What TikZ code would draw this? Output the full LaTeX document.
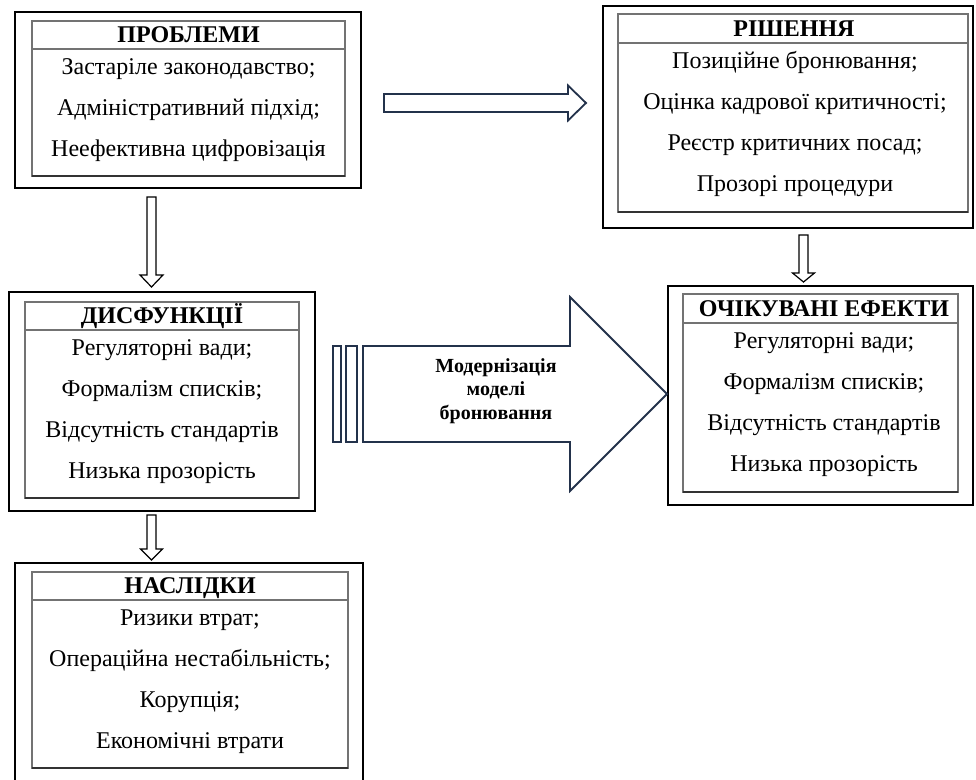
\documentclass[tikz,border=0pt]{standalone}
\usepackage{fontspec}
\setmainfont{Liberation Serif}
\usetikzlibrary{calc}
\definecolor{navy}{RGB}{35,50,75}
\definecolor{innergray}{RGB}{115,115,115}
\definecolor{innerdark}{RGB}{50,50,50}
\newcommand\downblock[5]{%
  \draw[blockarrow] ($(#1)+(-#3,0)$) -- ($(#2)+(-#3,-#5)$) -- ($(#2)+(-#4,-#5)$) -- (#2)
    -- ($(#2)+(#4,-#5)$) -- ($(#2)+(#3,-#5)$) -- ($(#1)+(#3,0)$) -- cycle;}
\newcommand\rightblock[6]{%
  \draw[#1] ($(#2)+(0,-#4)$) -- ($(#3)+(-#6,-#4)$) -- ($(#3)+(-#6,-#5)$) -- (#3)
    -- ($(#3)+(-#6,#5)$) -- ($(#3)+(-#6,#4)$) -- ($(#2)+(0,#4)$) -- cycle;}
\begin{document}
\begin{tikzpicture}[x=0.5pt,y=-0.5pt,
  outerbox/.style={draw=black,line width=1pt,inner sep=0pt,outer sep=0pt},
  innerbox/.style={draw=innergray,line width=0.8pt,inner sep=0pt,outer sep=0pt},
  innerbottom/.style={draw=innerdark,line width=0.8pt},
  title/.style={font=\bfseries\fontsize{12}{14}\selectfont,text height=8pt,text depth=0pt,inner sep=0pt},
  item/.style={font=\fontsize{12}{14}\selectfont,text height=8pt,text depth=0pt,inner sep=0pt},
  blockarrow/.style={draw=black,fill=white,line width=0.6pt,line join=miter},
  navyarrow/.style={draw=navy,fill=white,line width=0.9pt,line join=miter},
  bigtext/.style={font=\bfseries\fontsize{10}{11.75}\selectfont,align=center,inner sep=0pt}]

\useasboundingbox (0,0) rectangle (976,780);

% ---------- Box 1: ПРОБЛЕМИ
\node[outerbox,minimum width=173pt,minimum height=88pt] (p-out) at (188,100) {};
\node[innerbox,minimum width=156.5pt,minimum height=77.5pt] (p-in) at (188.5,98.5) {};
\draw[innerbox] ($(p-in.north west)+(0,28)$) -- ($(p-in.north east)+(0,28)$);
\draw[innerbottom] (p-in.south west) -- (p-in.south east);
\node[title] (p-t) at (188.5,35) {ПРОБЛЕМИ};
\node[item] (p-1) at (188.5,67) {Застаріле законодавство;};
\node[item] (p-2) at (188.5,108) {Адміністративний підхід;};
\node[item] (p-3) at (188.5,149) {Неефективна цифровізація};

% ---------- Box 2: РІШЕННЯ
\node[outerbox,minimum width=185pt,minimum height=111pt] (r-out) at (788,117) {};
\node[innerbox,minimum width=175pt,minimum height=99pt] (r-in) at (793,113) {};
\draw[innerbox] ($(r-in.north west)+(0,29)$) -- ($(r-in.north east)+(0,29)$);
\draw[innerbottom] (r-in.south west) -- (r-in.south east);
\node[title] (r-t) at (794,28.5) {РІШЕННЯ};
\node[item] (r-1) at (795,61) {Позиційне бронювання;};
\node[item] (r-2) at (795,102) {Оцінка кадрової критичності;};
\node[item] (r-3) at (795,143) {Реєстр критичних посад;};
\node[item] (r-4) at (795,184) {Прозорі процедури};

% ---------- Box 3: ДИСФУНКЦІЇ
\node[outerbox,minimum width=153pt,minimum height=109.5pt] (d-out) at (162,401.5) {};
\node[innerbox,minimum width=137pt,minimum height=98pt] (d-in) at (162,400) {};
\draw[innerbox] ($(d-in.north west)+(0,28)$) -- ($(d-in.north east)+(0,28)$);
\draw[innerbottom] (d-in.south west) -- (d-in.south east);
\node[title] (d-t) at (162,316) {ДИСФУНКЦІЇ};
\node[item] (d-1) at (162,348) {Регуляторні вади;};
\node[item] (d-2) at (162,389) {Формалізм списків;};
\node[item] (d-3) at (162,430) {Відсутність стандартів};
\node[item] (d-4) at (162,471) {Низька прозорість};

% ---------- Box 4: ОЧІКУВАНІ ЕФЕКТИ
\node[outerbox,minimum width=152.5pt,minimum height=109.5pt] (e-out) at (820.5,395.5) {};
\node[innerbox,minimum width=137.5pt,minimum height=99pt] (e-in) at (820.5,393) {};
\draw[innerbox] ($(e-in.north west)+(0,29)$) -- ($(e-in.north east)+(0,29)$);
\draw[innerbottom] (e-in.south west) -- (e-in.south east);
\node[title] (e-t) at (824,308.5) {ОЧІКУВАНІ ЕФЕКТИ};
\node[item] (e-1) at (824,341) {Регуляторні вади;};
\node[item] (e-2) at (824,382) {Формалізм списків;};
\node[item] (e-3) at (824,423) {Відсутність стандартів};
\node[item] (e-4) at (824,464) {Низька прозорість};

% ---------- Box 5: НАСЛІДКИ (outer frame runs past the bottom edge)
\draw[outerbox] (15,780) -- (15,563) -- (363,563) -- (363,780);
\node[innerbox,minimum width=158pt,minimum height=98pt] (n-in) at (190,670) {};
\draw[innerbox] ($(n-in.north west)+(0,28)$) -- ($(n-in.north east)+(0,28)$);
\draw[innerbottom] (n-in.south west) -- (n-in.south east);
\node[title] (n-t) at (190,586) {НАСЛІДКИ};
\node[item] (n-1) at (190,618) {Ризики втрат;};
\node[item] (n-2) at (190,659) {Операційна нестабільність;};
\node[item] (n-3) at (190,700) {Корупція;};
\node[item] (n-4) at (190,741) {Економічні втрати};

% ---------- Arrows
\coordinate (a1s) at (151.5,197);
\coordinate (a1e) at (151.5,287);
\downblock{a1s}{a1e}{4.5}{11.5}{12}

\coordinate (a2s) at (803.5,235);
\coordinate (a2e) at (803.5,282);
\downblock{a2s}{a2e}{4.5}{11}{9}

\coordinate (a3s) at (151.5,515);
\coordinate (a3e) at (151.5,560);
\downblock{a3s}{a3e}{4.5}{11}{11}

\coordinate (h1s) at (384,103);
\coordinate (h1e) at (586,103);
\rightblock{navyarrow}{h1s}{h1e}{9}{17.5}{18}

% big arrow with two bars
\draw[navyarrow] (333,346) rectangle (341,442);
\draw[navyarrow] (346,346) rectangle (357,442);
\coordinate (bs) at (363,394);
\coordinate (be) at (667,394);
\rightblock{navyarrow}{bs}{be}{48}{97}{97}
\node[bigtext] (bt) at (496,391) {Модернізація\\моделі\\бронювання};
\end{tikzpicture}
\end{document}
